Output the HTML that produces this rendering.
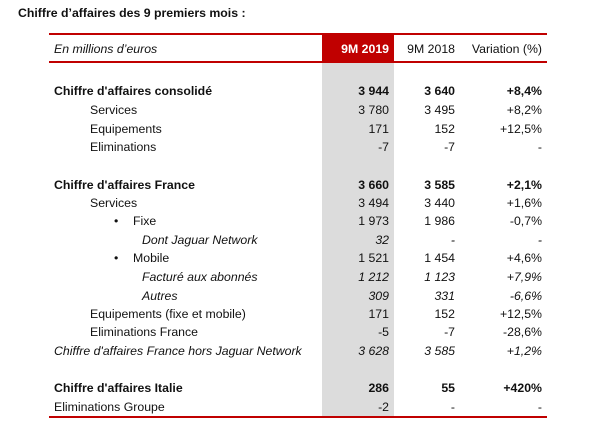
<!DOCTYPE html>
<html><head><meta charset="utf-8">
<style>
body{margin:0;width:600px;height:441px;background:#fff;position:relative;overflow:hidden;font-family:"Liberation Sans",Arial,sans-serif;font-size:12.3px;color:#111}
.a{position:absolute;white-space:nowrap;line-height:14px}
.r{text-align:right}
.b{font-weight:bold}
.i{font-style:italic}
.line{position:absolute;background:#c00000}
</style></head><body>
<div class="a b" style="left:18px;top:6px">Chiffre d’affaires des 9 premiers mois :</div>
<div class="line" style="left:49px;top:33px;width:498px;height:2px"></div>
<div style="position:absolute;left:322px;top:35px;width:72px;height:27px;background:#c00000"></div>
<div style="position:absolute;left:322px;top:63px;width:72px;height:354px;background:#dcdcdc"></div>
<div class="line" style="left:49px;top:61px;width:498px;height:2px"></div>
<div class="line" style="left:49px;top:416px;width:498px;height:1.5px"></div>
<div class="a i" style="left:54px;top:42px">En millions d’euros</div>
<div class="a b r" style="right:211px;top:42px;color:#fff">9M 2019</div>
<div class="a r" style="right:145px;top:42px">9M 2018</div>
<div class="a r" style="right:58px;top:42px">Variation (%)</div>
<div id="rows"></div>
<script>
const labels=["Chiffre d'affaires consolidé","Services","Equipements","Eliminations","Chiffre d'affaires France","Services","Fixe","Dont Jaguar Network","Mobile","Facturé aux abonnés","Autres","Equipements (fixe et mobile)","Eliminations France","Chiffre d'affaires France hors Jaguar Network","Chiffre d'affaires Italie","Eliminations Groupe"];
const v2019=["3 944","3 780","171","-7","3 660","3 494","1 973","32","1 521","1 212","309","171","-5","3 628","286","-2"];
const v2018=["3 640","3 495","152","-7","3 585","3 440","1 986","-","1 454","1 123","331","152","-7","3 585","55","-"];
const varr=["+8,4%","+8,2%","+12,5%","-","+2,1%","+1,6%","-0,7%","-","+4,6%","+7,9%","-6,6%","+12,5%","-28,6%","+1,2%","+420%","-"];
const ys=[91,110,129,147,185,203,221,240,258,277,296,314,332,351,388,407];
const xs=[54,90,90,90,54,90,133,142,133,142,142,90,90,54,54,54];
const style=["b","","","","b","","","i","","i","i","","","i","b",""];
const bullet=[0,0,0,0,0,0,1,0,1,0,0,0,0,0,0,0];
const root=document.getElementById('rows');
function add(txt,css,cls,name){const d=document.createElement('div');d.className='a '+cls;d.style.cssText=css;d.textContent=txt;


root.appendChild(d);}
labels.forEach((l,k)=>{const t=(ys[k]-7)+'px';const s=style[k];
add(l,'left:'+xs[k]+'px;top:'+t,s,'row-label');
if(bullet[k])add('•','left:114px;top:'+t,'','bullet');
add(v2019[k],'right:211px;top:'+t,'r '+s,'value-9m-2019');
add(v2018[k],'right:145px;top:'+t,'r '+s,'value-9m-2018');
add(varr[k],'right:58px;top:'+t,'r '+s,'value-variation');});
</script>
</body></html>
